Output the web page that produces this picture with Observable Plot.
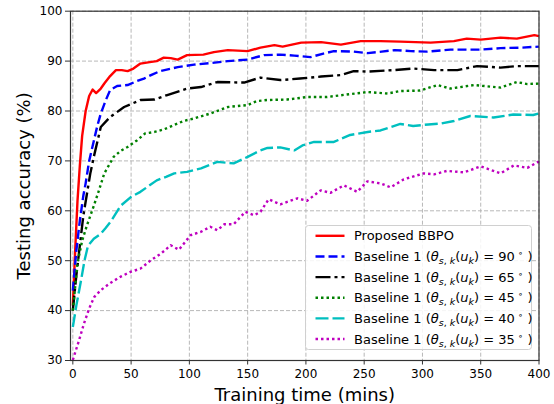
<!DOCTYPE html>
<html>
<head>
<meta charset="utf-8">
<script src="https://cdn.jsdelivr.net/npm/d3@7"></script>
<script src="https://cdn.jsdelivr.net/npm/@observablehq/plot@0.6"></script>
<style>
  html, body { margin: 0; padding: 0; background: #fff; }
  #wrap { position: relative; width: 554px; height: 404px; font-family: "DejaVu Sans", sans-serif; }
  #legend { position: absolute; left: 0; top: 0; pointer-events: none; }
</style>
</head>
<body>
<div id="wrap"></div>
<script>
// ---- data ----
const xTicks = [0, 50, 100, 150, 200, 250, 300, 350, 400];
const yTicks = [30, 40, 50, 60, 70, 80, 90, 100];

const proposedT   = [0, 2, 4, 6, 8, 11, 14, 17, 20, 24, 27, 32, 37, 42, 47, 52, 58, 66, 72, 78, 84, 90, 98, 112, 121, 133, 150, 161, 173, 180, 196, 213, 230, 247, 264, 281, 307, 327, 338, 350, 367, 381, 396, 400];
const proposedAcc = [41, 52, 62, 69, 75, 80, 83, 84.3, 83.6, 84.5, 85.5, 87, 88.2, 88.2, 88.0, 88.5, 89.5, 89.8, 90.0, 90.7, 90.6, 90.3, 91.2, 91.3, 91.8, 92.2, 92.0, 92.7, 93.2, 92.9, 93.7, 93.8, 93.3, 94.0, 94.0, 93.9, 93.7, 94.0, 94.5, 94.3, 94.7, 94.5, 95.2, 95.0];

const b90T   = [0, 3, 6, 9, 11, 14, 18, 21, 24, 28, 32, 38, 47, 55, 61, 68, 75, 90, 104, 118, 133, 150, 164, 178, 190, 204, 215, 224, 241, 253, 265, 276, 290, 304, 324, 350, 367, 385, 400];
const b90Acc = [44, 52, 58, 63, 65.5, 70, 74, 77, 79.5, 82, 84.2, 85, 85.2, 86, 86.5, 87.3, 88, 88.8, 89.3, 89.6, 90.0, 90.3, 91.2, 91.3, 91.1, 90.8, 91.5, 92.0, 91.9, 91.6, 91.9, 92.2, 92.0, 91.9, 92.3, 92.3, 92.6, 92.7, 92.9];

const b65T   = [0, 3, 6, 9, 12.6, 15, 18, 24, 32, 44, 58, 70, 81, 98, 110, 124, 147, 161, 178, 195, 213, 230, 241, 253, 276, 292, 310, 330, 347, 367, 381, 400];
const b65Acc = [40, 47, 53, 59, 64.1, 67.5, 70.8, 76.8, 78.8, 80.8, 82.2, 82.3, 83.2, 84.5, 84.8, 85.8, 85.7, 86.7, 86.2, 86.5, 86.9, 87.2, 88.0, 87.9, 88.2, 88.5, 88.2, 88.2, 89.0, 88.7, 89.0, 89.0];

const b45T   = [0, 4, 8, 12, 18, 22, 27, 35, 41, 47, 55, 62, 70, 78, 87, 95, 104, 118, 133, 150, 158, 167, 184, 201, 218, 235, 253, 270, 281, 298, 313, 324, 344, 367, 381, 390, 400];
const b45Acc = [40, 49.5, 54, 57, 61, 63.8, 67.5, 70.8, 72, 72.8, 74.1, 75.5, 75.8, 76.3, 77.2, 78, 78.5, 79.5, 80.8, 81.2, 82, 82.2, 82.3, 82.8, 82.8, 83.3, 83.8, 83.5, 84.0, 84.1, 85.2, 84.5, 85.2, 84.7, 85.8, 85.4, 85.5];

const b40T   = [0, 3, 7, 10, 13, 18, 24, 28, 33, 41, 50, 58, 64, 72, 80, 87, 98, 110, 124, 138, 150, 160, 167, 178, 190, 197, 207, 224, 238, 253, 264, 281, 292, 305, 316, 327, 341, 361, 378, 395, 400];
const b40Acc = [36.7, 41, 46, 50, 53, 54.4, 55.4, 56.5, 58, 61, 62.8, 63.8, 64.8, 66.1, 66.8, 67.5, 67.8, 68.5, 69.8, 69.5, 70.8, 72, 72.6, 72.7, 72.1, 73.1, 73.8, 73.8, 75.2, 75.8, 76.1, 77.4, 77.0, 77.3, 77.5, 78.0, 79.0, 78.7, 79.3, 79.2, 79.5];

const b35T   = [0, 5.4, 9.7, 14, 18.3, 24, 32.6, 41, 50, 58, 67, 75.5, 84, 91, 101, 110, 118, 124, 130, 138, 148, 155.5, 161, 168, 178, 192.7, 201, 212.7, 221, 232.6, 244, 252.7, 264, 272.7, 284, 301, 310, 321, 335.6, 350, 367, 378.5, 390, 399, 400];
const b35Acc = [30.1, 34.1, 37.5, 40.4, 42.7, 44.1, 45.6, 46.8, 47.8, 48.4, 50.1, 51.4, 53.1, 52.2, 55.1, 55.8, 56.8, 56.1, 57.3, 57.3, 59.8, 59.1, 59.8, 62.3, 61.3, 62.5, 62.0, 64.1, 63.6, 65.1, 63.8, 65.9, 65.5, 64.7, 66.3, 67.5, 67.3, 68.0, 67.7, 68.9, 67.5, 69.1, 68.6, 69.8, 69.6];

const seriesNames = [
  "Proposed BBPO",
  "Baseline 1 (θs,k(uk) = 90°)",
  "Baseline 1 (θs,k(uk) = 65°)",
  "Baseline 1 (θs,k(uk) = 45°)",
  "Baseline 1 (θs,k(uk) = 40°)",
  "Baseline 1 (θs,k(uk) = 35°)"
];
const angleLabels = ["90", "65", "45", "40", "35"];
const seriesColors = ["#ff0000", "#0000ff", "#000000", "#008000", "#00bfbf", "#bf00bf"];
const seriesDash = [null, "9,4", "15,4,3,4", "2.5,3", "13,4", "2.5,3"];

// ---- build ----
const seriesT = [proposedT, b90T, b65T, b45T, b40T, b35T];
const seriesA = [proposedAcc, b90Acc, b65Acc, b45Acc, b40Acc, b35Acc];
const tables = seriesT.map((ts, i) => ts.map((t, j) => ({t, acc: seriesA[i][j], s: seriesNames[i]})));

const font = "DejaVu Sans, sans-serif";
const lineMarks = tables.map((tab, i) => Plot.line(tab, {
  x: "t", y: "acc",
  stroke: seriesColors[i],
  strokeWidth: 2.4,
  strokeDasharray: seriesDash[i] || undefined,
  strokeLinecap: "butt",
  strokeLinejoin: "round"
}));

const chart = Plot.plot({
  width: 554,
  height: 404,
  marginLeft: 70,
  marginRight: 15.5,
  marginTop: 10.7,
  marginBottom: 44,
  style: {fontFamily: font, fontSize: "12px", color: "#000", background: "#fff"},
  x: {domain: [-2, 400]},
  y: {domain: [30, 100]},
  marks: [
    Plot.gridX(xTicks, {stroke: "#b0b0b0", strokeOpacity: 1, strokeDasharray: "4,2", strokeWidth: 0.9}),
    Plot.gridY(yTicks, {stroke: "#b0b0b0", strokeOpacity: 1, strokeDasharray: "4,2", strokeWidth: 0.9}),
    ...lineMarks,
    Plot.frame({stroke: "#333", strokeWidth: 1.2}),
    Plot.axisX(xTicks, {tickSize: 4.5, tickPadding: 4, fontSize: 12, label: null, stroke: "#333"}),
    Plot.axisY(yTicks, {tickSize: 5, tickPadding: 3, fontSize: 12, label: null, stroke: "#333"}),
    Plot.text(["Training time (mins)"], {frameAnchor: "bottom", dy: 40, fontSize: 18, lineAnchor: "bottom", textAnchor: "middle"}),
    Plot.text(["Testing accuracy (%)"], {frameAnchor: "left", dx: -46, rotate: -90, fontSize: 18, lineAnchor: "middle", textAnchor: "middle"})
  ]
});
document.getElementById("wrap").appendChild(chart);

// ---- legend ----
const leg = d3.select("#wrap").append("svg")
  .attr("id", "legend").attr("width", 554).attr("height", 404)
  .style("font-family", font);
leg.append("rect").attr("x", 305.5).attr("y", 225.5).attr("width", 226).attr("height", 124)
  .attr("rx", 3).attr("fill", "rgba(255,255,255,0.85)").attr("stroke", "#d0d0d0");
const rowY0 = 235.8, rowDy = 20.65;
seriesNames.forEach((name, i) => {
  const y = rowY0 + i * rowDy;
  leg.append("line").attr("x1", 315.5).attr("x2", 344.5).attr("y1", y).attr("y2", y)
    .attr("stroke", seriesColors[i]).attr("stroke-width", 2.4)
    .attr("stroke-dasharray", seriesDash[i] || null);
  const tx = leg.append("text").attr("x", 354).attr("y", y).attr("dy", "0.36em")
    .attr("font-size", 13).attr("fill", "#000");
  if (i === 0) {
    tx.text(name);
  } else {
    tx.append("tspan").text("Baseline 1 (");
    tx.append("tspan").attr("font-style", "italic").text("θ");
    tx.append("tspan").attr("font-size", 9.5).attr("font-style", "italic").attr("dy", 3).text("s");
    tx.append("tspan").attr("font-size", 9.5).text(", ");
    tx.append("tspan").attr("font-size", 9.5).attr("font-style", "italic").text("k");
    tx.append("tspan").attr("dy", -3).text("(");
    tx.append("tspan").attr("font-style", "italic").text("u");
    tx.append("tspan").attr("font-size", 9.5).attr("font-style", "italic").attr("dy", 3).text("k");
    tx.append("tspan").attr("dy", -3).text(") = " + angleLabels[i - 1]);
    tx.append("tspan").attr("font-size", 9).attr("dy", -5).text(" ∘");
    tx.append("tspan").attr("dy", 5).text(" )");
  }
});
</script>
</body>
</html>
